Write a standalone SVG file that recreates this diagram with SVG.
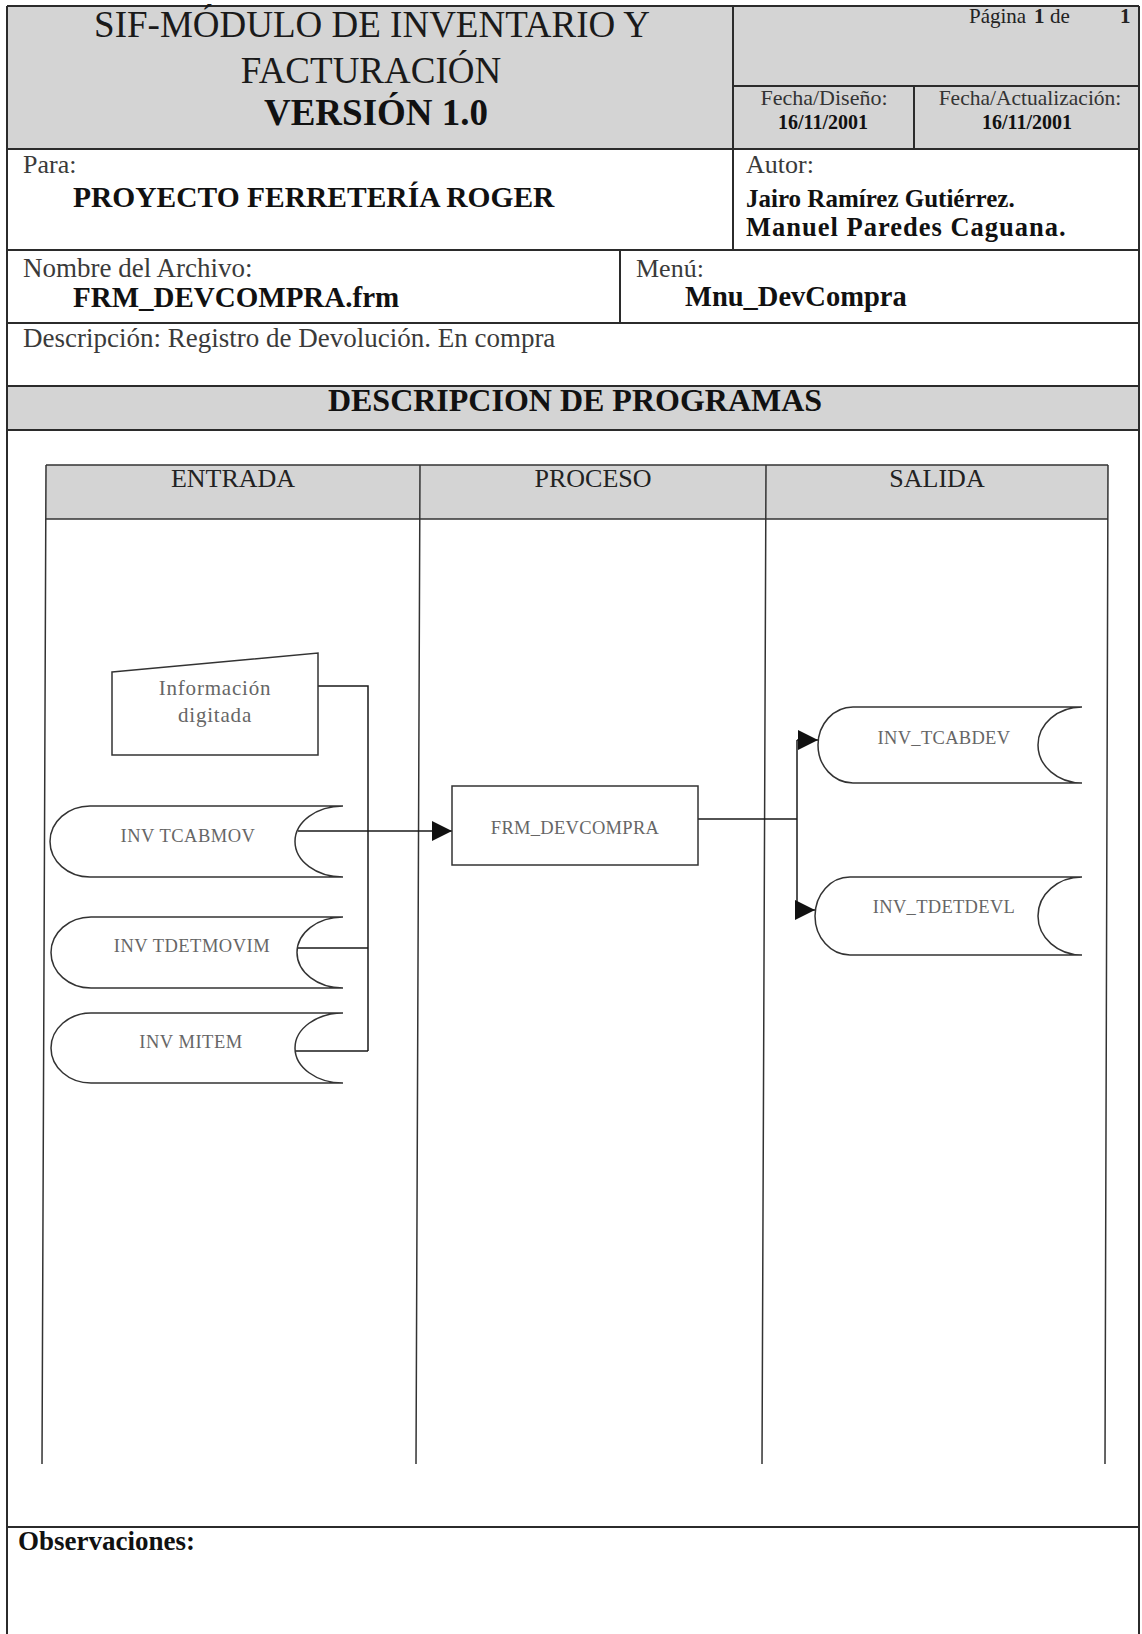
<svg xmlns="http://www.w3.org/2000/svg" width="1142" height="1634" viewBox="0 0 1142 1634">
<style>
  .ln{stroke:#2b2b2b;stroke-width:2;fill:none}
  .lane{stroke:#333;stroke-width:1.5;fill:none}
  .gray{fill:#d4d4d4}
  text{font-family:"Liberation Serif","Times New Roman",serif}
  .title{font-size:37px;fill:#1a1a1a;text-anchor:middle}
  .lbl{fill:#3a3a3a}
  .val{font-weight:bold;fill:#111}
  .hdr{font-size:26px;fill:#222;text-anchor:middle}
  .node{fill:#fff;stroke:#333;stroke-width:1.5}
  .ntext{fill:#666;text-anchor:middle}
  .conn{stroke:#1a1a1a;stroke-width:1.5;fill:none}
</style>
<defs>
  <marker id="ah" markerUnits="userSpaceOnUse" markerWidth="20" markerHeight="20" refX="20" refY="10" orient="auto">
    <path d="M0,0 L20,10 L0,20 Z" fill="#111"/>
  </marker>
</defs>
<rect x="0" y="0" width="1142" height="1634" fill="#fff"/>

<g id="form">
  <rect class="gray" x="7" y="6" width="1132" height="143"/>
  <rect class="gray" x="7" y="386" width="1132" height="44"/>
  <path class="ln" d="M7,6 H1139 M7,6 V1634 M1139,6 V1634 M7,149 H1139 M733,6 V250 M733,86 H1139 M914,86 V149 M7,250 H1139 M620,250 V323 M7,323 H1139 M7,386 H1139 M7,430 H1139 M7,1527 H1139"/>
  <text class="title" x="372" y="37">SIF-MÓDULO DE INVENTARIO Y</text>
  <text class="title" x="371" y="83">FACTURACIÓN</text>
  <text class="title val" x="376" y="125">VERSIÓN 1.0</text>
  <text x="969" y="23" font-size="21" fill="#222"><tspan x="969">Página</tspan><tspan x="1034" font-weight="bold">1</tspan><tspan x="1050">de</tspan><tspan x="1120" font-weight="bold">1</tspan></text>
  <text x="824" y="105" font-size="22" fill="#333" text-anchor="middle">Fecha/Diseño:</text>
  <text x="823" y="129" font-size="20" class="val" text-anchor="middle">16/11/2001</text>
  <text x="1030" y="105" font-size="21.5" fill="#333" text-anchor="middle">Fecha/Actualización:</text>
  <text x="1027" y="129" font-size="20" class="val" text-anchor="middle">16/11/2001</text>
  <text class="lbl" x="23" y="173" font-size="26">Para:</text>
  <text class="val" x="73" y="207" font-size="29.5">PROYECTO FERRETERÍA ROGER</text>
  <text class="lbl" x="746" y="173" font-size="26">Autor:</text>
  <text class="val" x="746" y="207" font-size="25">Jairo Ramírez Gutiérrez.</text>
  <text class="val" x="746" y="236" font-size="26.5" letter-spacing="1">Manuel Paredes Caguana.</text>
  <text class="lbl" x="23" y="277" font-size="27">Nombre del Archivo:</text>
  <text class="val" x="73" y="307" font-size="29">FRM_DEVCOMPRA.frm</text>
  <text class="lbl" x="636" y="277" font-size="26">Menú:</text>
  <text class="val" x="685" y="306" font-size="28.5">Mnu_DevCompra</text>
  <text class="lbl" x="23" y="347" font-size="27">Descripción: Registro de Devolución. En compra</text>
  <text class="val" x="575" y="411" font-size="32" text-anchor="middle">DESCRIPCION DE PROGRAMAS</text>
  <text class="val" x="18" y="1550" font-size="27">Observaciones:</text>
</g>

<g id="lanes">
  <rect class="gray" x="46" y="465" width="1062" height="54"/>
  <path class="lane" d="M46,465 H1108 M46,519 H1108 M46,465 L42,1464 M420,465 L416,1464 M766,465 L762,1464 M1108,465 L1105,1464"/>
  <text class="hdr" x="233" y="487">ENTRADA</text>
  <text class="hdr" x="593" y="487">PROCESO</text>
  <text class="hdr" x="937" y="487">SALIDA</text>
</g>

<g id="connectors">
  <path class="conn" d="M318,686 H368 V1051"/>
  <path class="conn" d="M297,948 H368"/>
  <path class="conn" d="M295,1051 H368"/>
  <path class="conn" d="M298,831 H452" marker-end="url(#ah)"/>
  <path class="conn" d="M698,819 H797"/>
  <path class="conn" d="M797,740 V910"/>
  <path class="conn" d="M797,740 H818" marker-end="url(#ah)"/>
  <path class="conn" d="M797,910 H815" marker-end="url(#ah)"/>
</g>

<g id="node-info">
  <polygon class="node" points="112,672 318,653 318,755 112,755"/>
  <text class="ntext" x="215" y="695" font-size="21" letter-spacing="0.8">Información</text>
  <text class="ntext" x="215" y="722" font-size="21" letter-spacing="0.8">digitada</text>
</g>
<g id="node-tcabmov">
  <path class="node" d="M90,806 H343 A48,35.5 0 0 0 343,877 H90 A40,35.5 0 0 1 90,806 Z"/>
  <text class="ntext" x="188" y="842" font-size="18.5" letter-spacing="0.5">INV TCABMOV</text>
</g>
<g id="node-tdetmovim">
  <path class="node" d="M91,917 H343 A46,35.5 0 0 0 343,988 H91 A40,35.5 0 0 1 91,917 Z"/>
  <text class="ntext" x="192" y="952" font-size="18.5" letter-spacing="0.5">INV TDETMOVIM</text>
</g>
<g id="node-mitem">
  <path class="node" d="M91,1013 H343 A48,35 0 0 0 343,1083 H91 A40,35 0 0 1 91,1013 Z"/>
  <text class="ntext" x="191" y="1048" font-size="18.5" letter-spacing="0.5">INV MITEM</text>
</g>
<g id="node-frm">
  <rect class="node" x="452" y="786" width="246" height="79"/>
  <text class="ntext" x="575" y="834" font-size="18.5" letter-spacing="0.3">FRM_DEVCOMPRA</text>
</g>
<g id="node-tcabdev">
  <path class="node" d="M853,707 H1082 A44,38 0 0 0 1082,783 H853 A35,38 0 0 1 853,707 Z"/>
  <text class="ntext" x="944" y="744" font-size="18.5" letter-spacing="0.3">INV_TCABDEV</text>
</g>
<g id="node-tdetdevl">
  <path class="node" d="M850,877 H1082 A44,39 0 0 0 1082,955 H850 A35,39 0 0 1 850,877 Z"/>
  <text class="ntext" x="944" y="913" font-size="18.5" letter-spacing="0.3">INV_TDETDEVL</text>
</g>
</svg>
